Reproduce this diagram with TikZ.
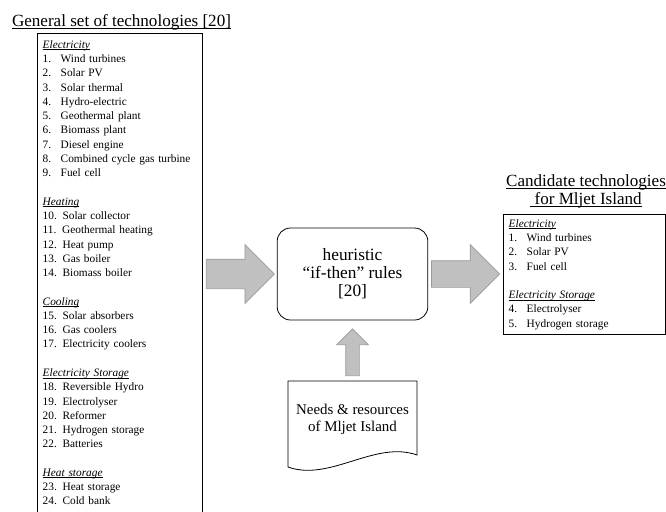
\documentclass[tikz,border=0pt]{standalone}
\usepackage{fontspec}
\setmainfont{Liberation Serif}
\usetikzlibrary{shapes.arrows,calc}

\definecolor{arrowfill}{RGB}{192,192,192}
\definecolor{arrowedge}{RGB}{155,155,155}

\newsavebox\ulbox
\newcommand{\ul}[2][-1.3pt]{\sbox\ulbox{#2}\usebox\ulbox\llap{\rule[#1]{\wd\ulbox}{0.45pt}}}
\newcommand{\itm}[2]{\makebox[13.5pt][l]{#1}#2}
\newcommand{\hd}[1]{\ul{\textit{#1}}}

\tikzset{
  titletext/.style={align=center,font=\fontsize{12.8}{13.5}\selectfont,inner sep=0pt},
  listbox/.style={draw,line width=0.6pt,anchor=north west,align=left,inner xsep=4pt,
    font=\fontsize{8.5}{10.7}\selectfont},
  rulebox/.style={draw,line width=0.6pt,rounded corners=10pt,align=center,
    minimum width=113pt,minimum height=69pt,font=\fontsize{13}{13.5}\selectfont},
  blockarrow/.style={single arrow,fill=arrowfill,draw=arrowedge,line width=0.5pt,
    single arrow tip angle=90,anchor=tip}
}

\begin{document}
\begin{tikzpicture}[x=0.75pt,y=-0.75pt]
\useasboundingbox (0,0) rectangle (666,511);

% general list
\node[titletext] (gentitle) at (121.5,22) {\ul[-1.8pt]{General set of technologies [20]}};
\node[listbox,inner ysep=5.3pt,text width=115.75pt] (gen) at (37,33) {%
  \hd{Electricity}\\
  \itm{1.}{Wind turbines}\\
  \itm{2.}{Solar PV}\\
  \itm{3.}{Solar thermal}\\
  \itm{4.}{Hydro-electric}\\
  \itm{5.}{Geothermal plant}\\
  \itm{6.}{Biomass plant}\\
  \itm{7.}{Diesel engine}\\
  \itm{8.}{Combined cycle gas turbine}\\
  \itm{9.}{Fuel cell}\\[10.7pt]
  \hd{Heating}\\
  10. Solar collector\\
  11. Geothermal heating\\
  12. Heat pump\\
  13. Gas boiler\\
  14. Biomass boiler\\[10.7pt]
  \hd{Cooling}\\
  15. Solar absorbers\\
  16. Gas coolers\\
  17. Electricity coolers\\[10.7pt]
  \hd{Electricity Storage}\\
  18. Reversible Hydro\\
  19. Electrolyser\\
  20. Reformer\\
  21. Hydrogen storage\\
  22. Batteries\\[10.7pt]
  \hd{Heat storage}\\
  23. Heat storage\\
  24. Cold bank};

% rules
\node[rulebox] (heur) at (352.5,274) {heuristic\\``if-then'' rules\\{}[20]};

% needs
\node[align=center,inner sep=0pt,font=\fontsize{11.2}{12.75}\selectfont] (needs) at (352.5,419)
  {Needs \& resources\\of Mljet Island};
\draw[line width=0.6pt] (288,467) -- (288,381) -- (417,381) -- (417,455)
  .. controls (375,440) and (330,482) .. (288,467);

% candidates
\node[titletext] (candtitle) at (586,191)
  {\ul[-1.8pt]{Candidate technologies}\\\ul[-1.8pt]{\ for Mljet Island}};
\node[listbox,inner ysep=3.8pt,text width=113.5pt] (cand) at (503,214) {%
  \hd{Electricity}\\
  \itm{1.}{Wind turbines}\\
  \itm{2.}{Solar PV}\\
  \itm{3.}{Fuel cell}\\[10.7pt]
  \hd{Electricity Storage}\\
  \itm{4.}{Electrolyser}\\
  \itm{5.}{Hydrogen storage}};

% block arrows
\node[blockarrow,inner sep=10.875pt,minimum height=51pt,minimum width=43.5pt,
  single arrow head extend=10.875pt]
  (togen) at ([xshift=-1.5pt]heur.west) {};
\node[blockarrow,inner sep=9.75pt,minimum height=51pt,minimum width=43.5pt,
  single arrow head extend=12pt]
  (tocand) at ([xshift=-2.25pt]cand.west |- heur.east) {};
\node[blockarrow,shape border rotate=90,inner sep=4.875pt,minimum height=35.25pt,
  minimum width=23.25pt,single arrow head extend=6.75pt]
  (fromneeds) at ([yshift=-6pt]heur.south) {};

\end{tikzpicture}
\end{document}
